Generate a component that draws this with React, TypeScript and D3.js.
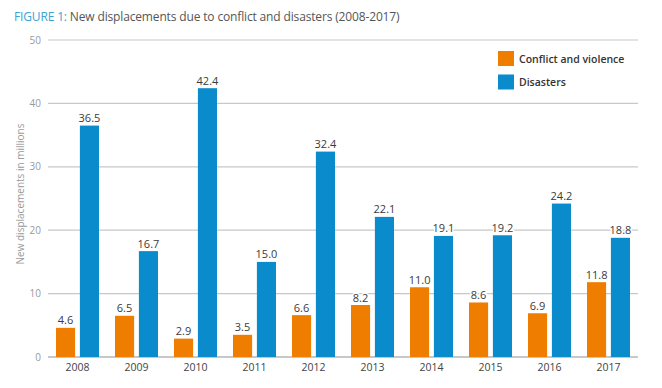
import React from "react";
import * as d3 from "d3";

const years = ["2008","2009","2010","2011","2012","2013","2014","2015","2016","2017"];
const conflict = [4.6, 6.5, 2.9, 3.5, 6.6, 8.2, 11.0, 8.6, 6.9, 11.8];
const disasters = [36.5, 16.7, 42.4, 15.0, 32.4, 22.1, 19.1, 19.2, 24.2, 18.8];
const yTicks = [0, 10, 20, 30, 40, 50];
const seriesNames = ["Conflict and violence", "Disasters"];
const colors = ["#ef7d00", "#0a8ccc"];

const W = 662, H = 388;
const left = 48, right = 638, top = 40, bottom = 357;
const font = "'Open Sans', 'Noto Sans', sans-serif";

export default function App() {
  const x = d3.scaleBand<string>().domain(years).range([left, right]).paddingInner(0).paddingOuter(0);
  const sub = d3.scaleBand<string>().domain(["c", "d"]).range([8, x.bandwidth() - 8]).paddingInner(0.2);
  const y = d3.scaleLinear().domain([0, 50]).range([bottom, top]);
  const series = [conflict, disasters];
  const keys = ["c", "d"];
  return (
    <svg width={W} height={H} style={{ position: "absolute", left: 0, top: 0, background: "#fff" }} fontFamily={font}>
      <text x={14} y={21} fontSize={12} letterSpacing={-0.15} fill="#555">
        <tspan fill="#3aa3d2">FIGURE 1: </tspan>New displacements due to conflict and disasters (2008-2017)
      </text>
      {yTicks.map((t) => (
        <g key={t}>
          <line x1={left} x2={right} y1={y(t)} y2={y(t)} stroke="#c8c8c8" strokeWidth={t === 0 ? 2 : 1.2} />
          <text x={41} y={y(t) + 3.5} textAnchor="end" fontSize={10} fill="#9a9a9a">{t}</text>
        </g>
      ))}
      <text transform={`translate(24,194) rotate(-90)`} textAnchor="middle" fontSize={10} fill="#9a9a9a">
        New displacements in millions
      </text>
      {years.map((yr, i) => (
        <g key={yr}>
          {series.map((s, k) => (
            <rect key={k} x={(x(yr) as number) + (sub(keys[k]) as number)} y={y(s[i])} width={sub.bandwidth()} height={bottom - y(s[i])} fill={colors[k]} />
          ))}
          <text x={(x(yr) as number) + x.bandwidth() / 2} y={371} textAnchor="middle" fontSize={10.5} fill="#444">{yr}</text>
        </g>
      ))}
      {years.map((yr, i) => (
        <g key={"l" + yr}>
          {series.map((s, k) => (
            <text key={k} x={(x(yr) as number) + (sub(keys[k]) as number) + sub.bandwidth() / 2} y={y(s[i]) - 3.5}
              textAnchor="middle" fontSize={11} fill="#3a3a3a" stroke="#fff" strokeWidth={3} paintOrder="stroke">
              {s[i].toFixed(1)}
            </text>
          ))}
        </g>
      ))}
      {seriesNames.map((n, k) => (
        <g key={n}>
          <rect x={498} y={51 + k * 23.5} width={16} height={15} fill={colors[k]} />
          <text x={519} y={62.5 + k * 23.5} fontSize={10.5} fontWeight={600} fill="#333">{n}</text>
        </g>
      ))}
    </svg>
  );
}
